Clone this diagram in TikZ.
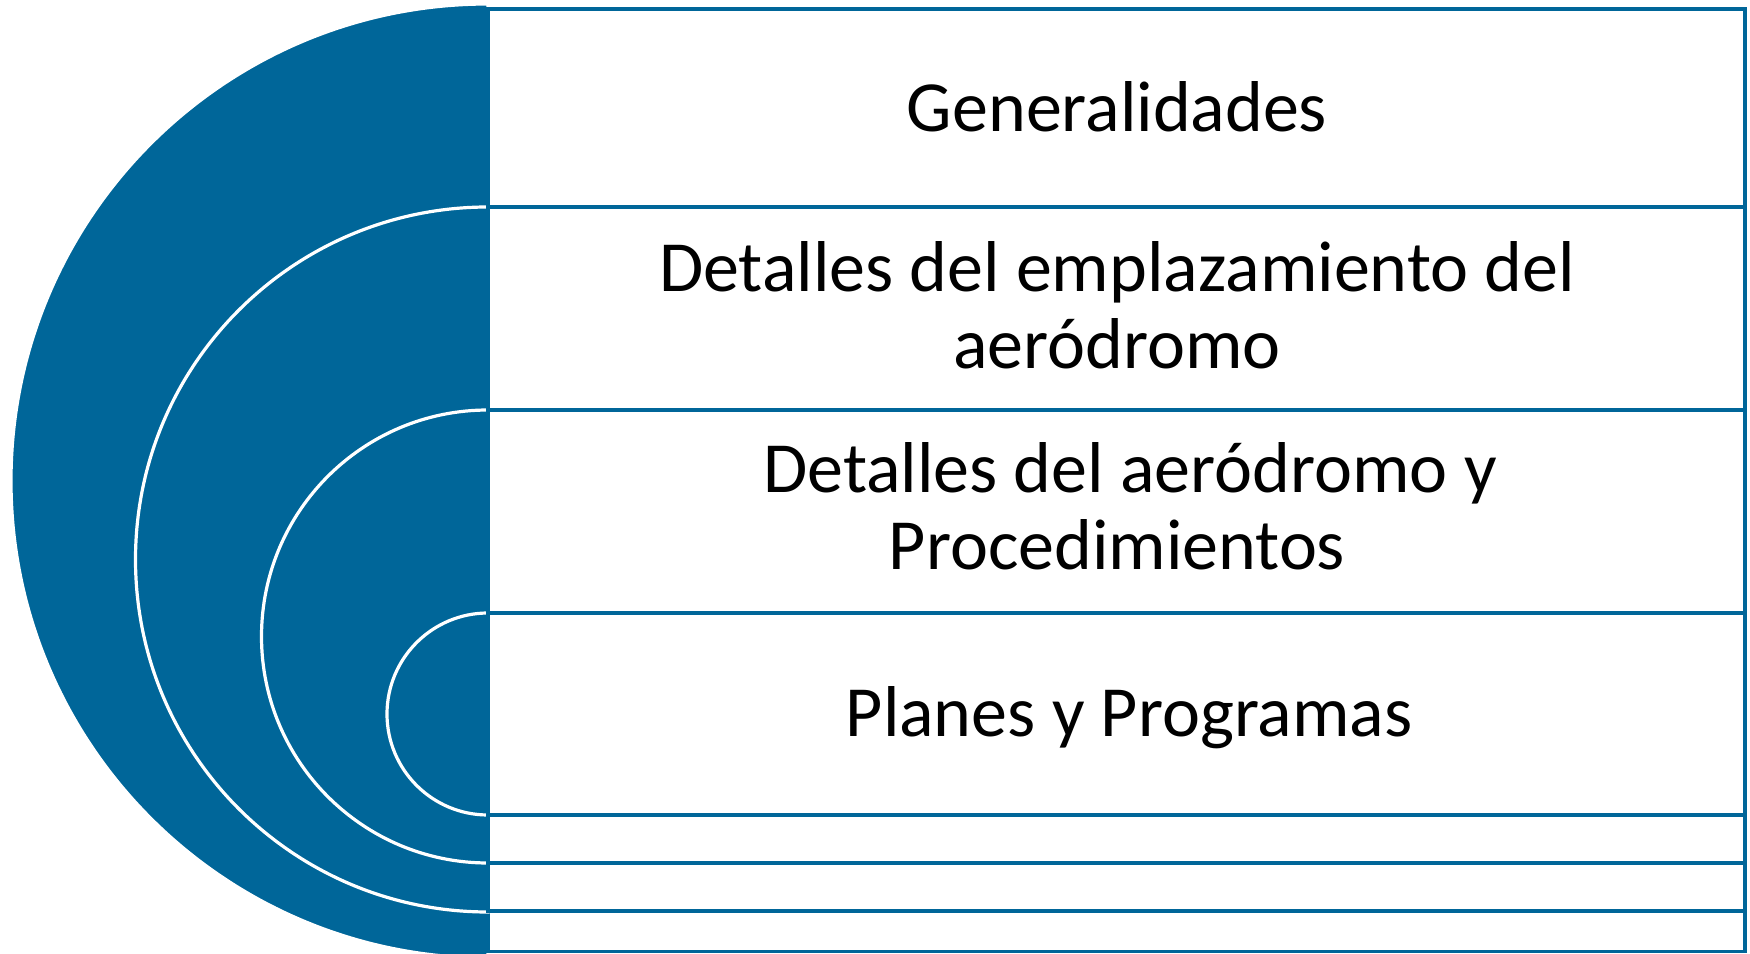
\documentclass[tikz,border=0pt]{standalone}
\usepackage{fontspec}
\setmainfont{Carlito}
\definecolor{nblue}{HTML}{006699}
\begin{document}
\begin{tikzpicture}[x=0.5pt,y=0.5pt,
  halfdisc/.style={fill=nblue,draw=white,line width=1.6pt},
  band/.style={fill=white,draw=nblue,line width=1.6pt},
  txt/.style={anchor=base,inner sep=0pt,font=\fontsize{36}{38.5}\selectfont}]
\useasboundingbox (0,0) rectangle (1750,953);
\clip (0,0) rectangle (1750,953);
% outer level
\draw[halfdisc] (488,949) arc[start angle=90,end angle=270,radius=477] -- cycle;
\draw[band] (488,1.5) rectangle (1745,944);
% second level
\draw[halfdisc] (488,746) arc[start angle=90,end angle=270,radius=352.5] -- cycle;
\draw[band] (488,42) rectangle (1745,746);
% third level
\draw[halfdisc] (488,543) arc[start angle=90,end angle=270,radius=226.5] -- cycle;
\draw[band] (488,90) rectangle (1745,543);
% fourth level
\draw[halfdisc] (488,340) arc[start angle=90,end angle=270,radius=101] -- cycle;
\draw[band] (488,138) rectangle (1745,340);
% texts
\node[txt] (t1) at (1117,821) {Generalidades};
\node[txt] (t2) at (1117,661) {\begin{tabular}[t]{@{}c@{}}Detalles del emplazamiento del\\aeródromo\end{tabular}};
\node[txt] (t3) at (1117,460) {\begin{tabular}[t]{@{}c@{}}\kern13pt Detalles del aeródromo y\\Procedimientos\end{tabular}};
\node[txt] (t4) at (1117,216) {\kern12pt Planes y Programas};
\end{tikzpicture}
\end{document}
